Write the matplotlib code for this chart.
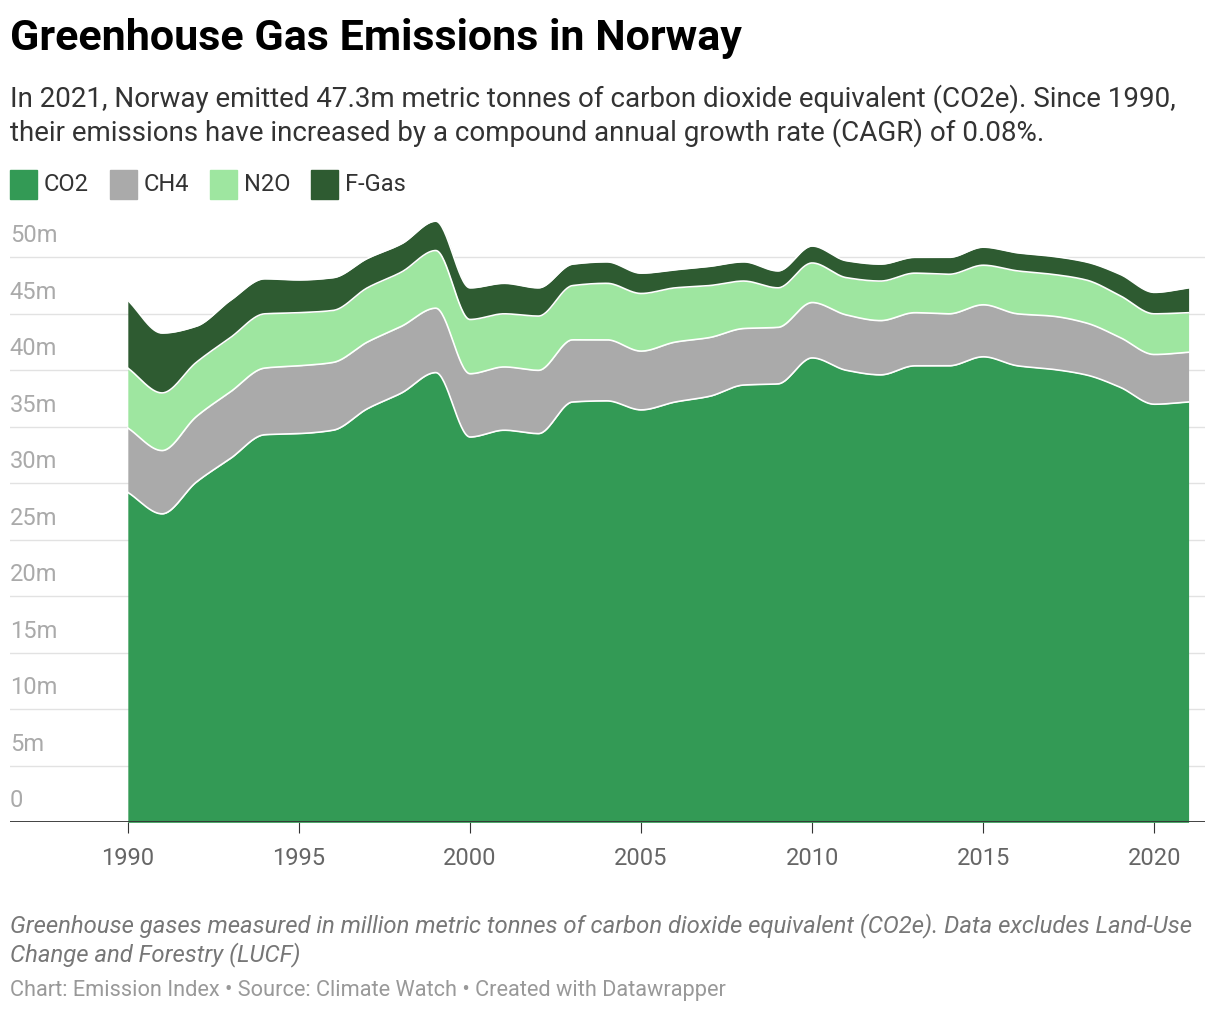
import numpy as np
import matplotlib.pyplot as plt

plt.rcParams['font.family'] = ['Roboto', 'DejaVu Sans']

years = np.arange(1990, 2022)
# cumulative stack tops (million tonnes CO2e)
co2_top = [29.2, 27.3, 30.1, 32.2, 34.3, 34.4, 34.7, 36.6, 38.0, 39.8, 34.1, 34.7, 34.4, 37.2, 37.3, 36.5,
           37.2, 37.7, 38.7, 38.8, 41.1, 40.0, 39.6, 40.4, 40.4, 41.2, 40.4, 40.1, 39.6, 38.5, 37.0, 37.2]
ch4_top = [34.9, 32.9, 35.9, 38.1, 40.2, 40.4, 40.7, 42.5, 43.9, 45.5, 39.7, 40.3, 40.0, 42.7, 42.7, 41.7,
           42.5, 42.9, 43.7, 43.8, 46.0, 44.9, 44.4, 45.1, 45.0, 45.8, 45.0, 44.8, 44.2, 42.9, 41.4, 41.6]
n2o_top = [40.2, 38.0, 40.7, 42.9, 45.0, 45.1, 45.3, 47.3, 48.7, 50.6, 44.5, 45.0, 44.8, 47.5, 47.7, 46.8,
           47.3, 47.5, 47.9, 47.3, 49.5, 48.2, 47.9, 48.6, 48.5, 49.3, 48.8, 48.5, 48.0, 46.6, 45.0, 45.1]
fgas_top = [46.2, 43.3, 43.9, 46.2, 48.1, 48.0, 48.2, 49.9, 51.2, 53.2, 47.3, 47.7, 47.3, 49.4, 49.6, 48.6,
            48.9, 49.2, 49.6, 48.8, 51.0, 49.7, 49.4, 50.0, 50.0, 50.9, 50.4, 50.1, 49.6, 48.5, 46.9, 47.3]
names = ['CO2', 'CH4', 'N2O', 'F-Gas']
colors = ['#339a55', '#aaaaaa', '#9ee6a0', '#2e5b31']


def monotone(x, y, xs):
    x = np.asarray(x, float); y = np.asarray(y, float)
    h = np.diff(x); d = np.diff(y) / h
    m = np.zeros_like(y)
    m[0], m[-1] = d[0], d[-1]
    for i in range(1, len(y) - 1):
        if d[i - 1] * d[i] > 0:
            m[i] = 2 / (1 / d[i - 1] + 1 / d[i])
    idx = np.clip(np.searchsorted(x, xs) - 1, 0, len(x) - 2)
    t = (xs - x[idx]) / h[idx]
    h00 = 2*t**3 - 3*t**2 + 1; h10 = t**3 - 2*t**2 + t
    h01 = -2*t**3 + 3*t**2; h11 = t**3 - t**2
    return h00*y[idx] + h10*h[idx]*m[idx] + h01*y[idx+1] + h11*h[idx]*m[idx+1]


fig = plt.figure(figsize=(12.2, 10.14), dpi=100)
ax = fig.add_axes([0.008, 0.189, 0.98, 0.594])
xs = np.linspace(1990, 2021, 1000)
prev = np.zeros_like(xs)
for top, c in zip([co2_top, ch4_top, n2o_top, fgas_top], colors):
    cur = monotone(years, top, xs)
    ax.fill_between(xs, prev, cur, color=c, lw=0, zorder=2)
    ax.plot(xs, cur, color='white', lw=1.2, zorder=3)
    prev = cur

ax.set_xlim(1986.55, 2021.49)
ax.set_ylim(0, 53.3)
for v in range(0, 55, 5):
    if v > 0:
        ax.axhline(v, color='#e2e2e2', lw=1, zorder=1)
    ax.text(1986.55, v + 0.9, '0' if v == 0 else f'{v}m', color='#aaaaaa', fontsize=17, va='bottom', zorder=4)
ax.axhline(0, color='#333333', lw=1.3, zorder=5)
ax.set_xticks(range(1990, 2021, 5))
ax.tick_params(axis='x', length=8, color='#333333', labelsize=17, labelcolor='#666666', pad=10)
ax.set_yticks([])
for s in ax.spines.values():
    s.set_visible(False)

fig.text(0.008, 0.962, 'Greenhouse Gas Emissions in Norway', fontsize=31, fontweight='bold', va='center')
fig.text(0.008, 0.886, 'In 2021, Norway emitted 47.3m metric tonnes of carbon dioxide equivalent (CO2e). Since 1990,\n'
         'their emissions have increased by a compound annual growth rate (CAGR) of 0.08%.',
         fontsize=20, color='#333333', va='center', linespacing=1.2)
legend_x = [0.008, 0.090, 0.172, 0.255]
for n, c, x0 in zip(names, colors, legend_x):
    fig.patches.append(plt.Rectangle((x0, 0.804), 0.022, 0.028, color=c, transform=fig.transFigure, figure=fig))
    fig.text(x0 + 0.028, 0.818, n, fontsize=17, color='#333333', va='center')
fig.text(0.008, 0.073, 'Greenhouse gases measured in million metric tonnes of carbon dioxide equivalent (CO2e). Data excludes Land-Use\n'
         'Change and Forestry (LUCF)', fontsize=17.2, style='italic', color='#777777', va='center', linespacing=1.2)
fig.text(0.008, 0.023, 'Chart: Emission Index • Source: Climate Watch • Created with Datawrapper',
         fontsize=15.7, color='#999999', va='center')
fig.savefig('out.png')
